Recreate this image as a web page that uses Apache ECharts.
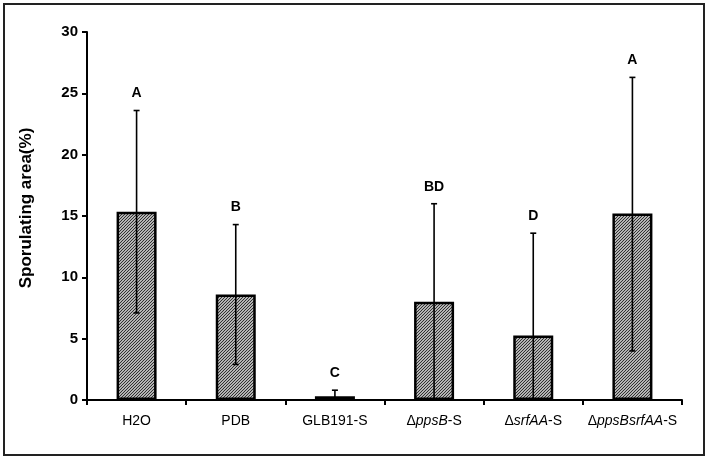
<!DOCTYPE html>
<html><head><meta charset="utf-8">
<script src="https://cdn.jsdelivr.net/npm/echarts@6/dist/echarts.min.js"></script>
<style>html,body{margin:0;padding:0;background:#fff}#c{width:709px;height:460px}</style>
</head><body><div id="c"></div>
<script>
const categories = ['H2O', 'PDB', 'GLB191-S', 'ΔppsB-S', 'ΔsrfAA-S', 'ΔppsBsrfAA-S'];
const categoryLabels = ['H2O', 'PDB', 'GLB191-S', 'Δ{i|ppsB}-S', 'Δ{i|srfAA}-S', 'Δ{i|ppsBsrfAA}-S'];
const means = [15.35, 8.6, 0.3, 8.0, 5.25, 15.2];
const errLow = [7.1, 2.9, 0.0, 0.0, 0.0, 4.0];
const errHigh = [23.6, 14.3, 0.8, 16.0, 13.6, 26.3];
const letters = ['A', 'B', 'C', 'BD', 'D', 'A'];
const yTicks = [0, 5, 10, 15, 20, 25, 30];

const pc = document.createElement('canvas');
pc.width = 3; pc.height = 3;
const g = pc.getContext('2d');
g.fillStyle = '#f4f4f4'; g.fillRect(0, 0, 3, 3);
g.strokeStyle = '#2a2a2a'; g.lineWidth = 1.2;
g.beginPath();
g.moveTo(0, 3); g.lineTo(3, 0);
g.moveTo(-1, 1); g.lineTo(1, -1);
g.moveTo(2, 4); g.lineTo(4, 2);
g.stroke();

const FONT = 'Liberation Sans, Arial';
const chart = echarts.init(document.getElementById('c'));
chart.setOption({
  animation: false,
  backgroundColor: '#fff',
  graphic: [{type: 'rect', shape: {x: 4, y: 4, width: 700, height: 451}, style: {fill: 'none', stroke: '#222', lineWidth: 2}}],
  grid: {left: 87, right: 27, top: 32, bottom: 60},
  xAxis: {
    type: 'category', data: categories,
    axisLine: {lineStyle: {color: '#000', width: 2}},
    axisTick: {show: true, length: 5, lineStyle: {color: '#000', width: 2}},
    axisLabel: {
      interval: 0, margin: 14, color: '#000', fontFamily: FONT, fontSize: 14,
      formatter: (v, i) => categoryLabels[i],
      rich: {i: {fontStyle: 'italic', fontFamily: FONT, fontSize: 14, color: '#000'}}
    }
  },
  yAxis: {
    type: 'value', min: 0, max: 30, interval: 5,
    name: 'Sporulating area(%)', nameLocation: 'middle', nameGap: 52,
    nameTextStyle: {fontFamily: FONT, fontWeight: 'bold', fontSize: 17, color: '#000', padding: [0, 0, 0, 16]},
    axisLine: {show: true, lineStyle: {color: '#000', width: 2}},
    axisTick: {show: true, length: 5, lineStyle: {color: '#000', width: 2}},
    splitLine: {show: false},
    axisLabel: {margin: 9, color: '#000', fontFamily: FONT, fontWeight: 'bold', fontSize: 15,
      formatter: v => yTicks.includes(v) ? String(v) : ''}
  },
  series: [
    {
      type: 'bar', data: means, barWidth: 40,
      itemStyle: {color: {image: pc, repeat: 'repeat'}, borderColor: '#000', borderWidth: 2.5}
    },
    {
      type: 'custom',
      data: categories.map((c, i) => [i, errLow[i], errHigh[i]]),
      renderItem: (params, api) => {
        const lo = api.coord([api.value(0), api.value(1)]);
        const hi = api.coord([api.value(0), api.value(2)]);
        const x = lo[0], cap = 3;
        const children = [
          {type: 'line', shape: {x1: x, y1: lo[1], x2: x, y2: hi[1]}, style: {stroke: '#000', lineWidth: 1.6}},
          {type: 'line', shape: {x1: x - cap, y1: hi[1], x2: x + cap, y2: hi[1]}, style: {stroke: '#000', lineWidth: 1.6}},
          {type: 'text', style: {text: letters[params.dataIndex], x: x, y: hi[1] - 10, align: 'center', verticalAlign: 'bottom',
            font: 'bold 14px "Liberation Sans", Arial', fill: '#000'}}
        ];
        if (api.value(1) > 0) {
          children.push({type: 'line', shape: {x1: x - cap, y1: lo[1], x2: x + cap, y2: lo[1]}, style: {stroke: '#000', lineWidth: 1.6}});
        }
        return {type: 'group', children};
      },
      z: 5
    }
  ]
});
</script></body></html>
